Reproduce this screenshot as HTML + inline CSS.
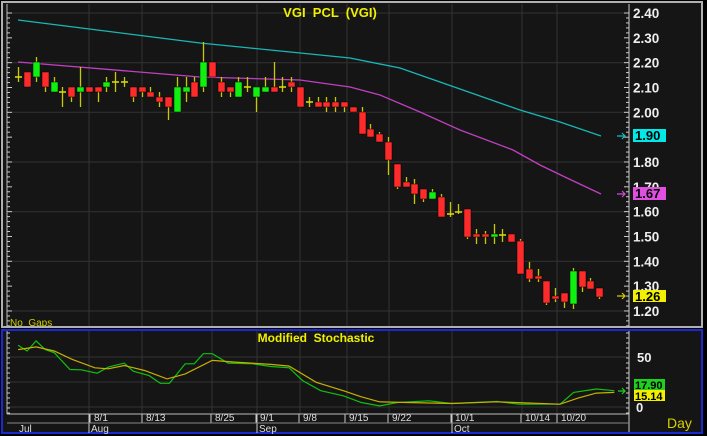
<!DOCTYPE html>
<html><head><meta charset="utf-8"><style>
html,body{margin:0;padding:0;background:#000;}
svg{display:block;font-family:"Liberation Sans",sans-serif;}
</style></head><body>
<svg id="s" width="707" height="436" viewBox="0 0 707 436" xmlns="http://www.w3.org/2000/svg">
<rect width="707" height="436" fill="#000"/>
<rect x="2" y="2" width="700" height="325" fill="#151515" stroke="#b0b0b0" stroke-width="2"/>
<rect x="2" y="330" width="700" height="103" fill="#151515" stroke="#1a2ad0" stroke-width="2"/>
<g id="grid" stroke="#333" stroke-width="1"></g>
<line x1="7" y1="4" x2="7" y2="326" stroke="#bbb"/>
<line x1="629" y1="4" x2="629" y2="326" stroke="#ccc"/>
<line x1="629" y1="331" x2="629" y2="432" stroke="#ccc"/>
<line x1="7" y1="331" x2="7" y2="414" stroke="#bbb"/>
<g id="ticks" stroke="#ccc" stroke-width="1"></g>
<g id="ma" fill="none" stroke-width="1.3">
<polyline stroke="#17b8b8" points="18,20 200,43 350,58 400,68 440,82 480,96 520,110 560,122 601,136"/>
<polyline stroke="#c040c0" points="18,62 200,77 300,80 350,87 380,95 420,112 460,130 513,150 540,165 567,178 601,194"/>
</g>
<g id="candles"></g>
<text x="330" y="17" fill="#f0f000" font-size="13" font-weight="bold" text-anchor="middle" xml:space="preserve">VGI  PCL  (VGI)</text>
<text x="10" y="326" fill="#d0d000" font-size="10" xml:space="preserve">No  Gaps</text>
<g id="labels" fill="#eee" font-size="13.5" font-weight="bold"></g>
<g stroke-width="1.2" fill="none">
<path d="M617 136h8M622 133l3 3-3 3" stroke="#17c0c0"/>
<path d="M617 194h8M622 191l3 3-3 3" stroke="#d050d0"/>
<path d="M617 296h8M622 293l3 3-3 3" stroke="#d0d000"/>
<path d="M618 391h7M622 388l3 3-3 3" stroke="#20d020"/>
</g>
<rect x="633" y="129" width="33" height="13" fill="#00e8e8"/><text x="635" y="140" font-size="13" font-weight="bold" fill="#000">1.90</text>
<rect x="633" y="187" width="33" height="13" fill="#e050e0"/><text x="635" y="198" font-size="13" font-weight="bold" fill="#000">1.67</text>
<rect x="633" y="290" width="33" height="12" fill="#f0f000"/><text x="635" y="301" font-size="13" font-weight="bold" fill="#000">1.26</text>
<text x="316" y="342" fill="#f0f000" font-size="12" font-weight="bold" text-anchor="middle" xml:space="preserve">Modified  Stochastic</text>
<g id="stoch" fill="none" stroke-width="1.2"></g>
<text x="637" y="362" fill="#eee" font-size="13" font-weight="bold">50</text>
<text x="636" y="412" fill="#eee" font-size="13" font-weight="bold">0</text>
<rect x="634" y="379" width="31" height="11" fill="#20d020"/><text x="635" y="389" font-size="11" font-weight="bold" fill="#000">17.90</text>
<rect x="634" y="390" width="31" height="11" fill="#f0f000"/><text x="635" y="400" font-size="11" font-weight="bold" fill="#000">15.14</text>
<line x1="7" y1="414" x2="629" y2="414" stroke="#bbb"/>
<line x1="7" y1="423" x2="629" y2="423" stroke="#888"/>
<g id="dates" fill="#ddd" font-size="10"></g>
<text x="667" y="428" fill="#d8d000" font-size="14">Day</text>
</svg>
<script>
const NS="http://www.w3.org/2000/svg";
function el(p,t,a,txt){const e=document.createElementNS(NS,t);for(const k in a)e.setAttribute(k,a[k]);if(txt!==undefined)e.textContent=txt;document.getElementById(p).appendChild(e);return e;}
const vx=[89,142,212,257,300,347,389,452,522,557];
vx.forEach(x=>{el("grid","line",{x1:x,y1:4,x2:x,y2:326});el("grid","line",{x1:x,y1:331,x2:x,y2:414});});
[13,62.7,112.3,162,211.7,261.3,311].forEach(y=>el("grid","line",{x1:8,y1:y,x2:628,y2:y}));
[357,382,407].forEach(y=>el("grid","line",{x1:8,y1:y,x2:628,y2:y}));
for(let i=0;i<=12;i++){const y=13+i*24.83;el("labels","text",{x:633,y:y+5},(2.4-i*0.1).toFixed(2));
 el("ticks","line",{x1:624,y1:y,x2:629,y2:y});el("ticks","line",{x1:7,y1:y,x2:12,y2:y});
 for(let j=1;j<5;j++){const yy=y+j*4.97;if(yy<326){el("ticks","line",{x1:626,y1:yy,x2:629,y2:yy});el("ticks","line",{x1:7,y1:yy,x2:10,y2:yy});}}}
for(let y=333;y<414;y+=5){el("ticks","line",{x1:626,y1:y,x2:629,y2:y});el("ticks","line",{x1:7,y1:y,x2:10,y2:y});}
const C=[["d",77,77,67,82],["r",72,87,72,87],["g",62,77,57,82],["r",72,87,72,92],["g",82,92,77,92],["d",92,92,87,107],["r",87,97,87,102],["g",87,92,67,107],["r",87,92,87,92],["r",87,92,87,102],["g",82,87,77,92],["d",82,82,72,92],["d",82,82,77,87],["r",87,97,87,102],["r",87,92,87,97],["r",92,97,87,97],["r",97,102,92,107],["r",97,107,97,120],["g",87,112,77,112],["g",87,92,77,102],["r",82,97,77,97],["g",62,87,42,92],["r",62,77,62,77],["r",82,92,77,97],["r",87,92,87,97],["g",82,97,77,97],["d",87,87,77,92],["g",87,97,87,112],["g",87,92,77,92],["r",87,92,62,92],["d",87,87,77,92],["r",82,87,77,92],["r",87,107,87,107],["d",102,102,97,107],["r",102,107,97,107],["r",102,107,97,112],["r",102,107,97,112],["r",102,107,102,112],["r",107,112,107,112],["r",112,134,107,134],["r",129,137,124,137],["r",134,142,132,142],["r",142,160,137,175],["r",164,187,164,189],["r",182,187,177,187],["r",184,194,179,204],["r",189,199,189,202],["g",192,199,189,199],["r",197,217,194,217],["d",214,214,202,217],["d",212,212,204,214],["r",209,237,209,239],["r",234,237,229,244],["r",234,237,231,244],["g",234,237,224,244],["d",235,235,229,242],["r",234,242,234,242],["r",241,274,239,274],["r",269,279,262,282],["r",276,279,269,282],["r",281,303,281,305],["r",296,299,288,302],["r",293,302,293,308],["g",271,304,268,309],["r",271,287,271,292],["r",281,289,278,289],["r",288,297,288,299]];
C.forEach((c,i)=>{const x=Math.round(18.3+i*8.8)+0.5;
 if(c[3]<c[1]||c[4]>c[2])el("candles","line",{x1:x,y1:c[3],x2:x,y2:c[4],stroke:"#c8c800","stroke-width":1.3});
 if(c[0]=="d")el("candles","line",{x1:x-3.5,y1:c[1],x2:x+3.5,y2:c[1],stroke:"#e0e000","stroke-width":1.5});
 else el("candles","rect",{x:x-3.5,y:c[1],width:7,height:Math.max(c[2]-c[1],3),fill:c[0]=="r"?"#ff2a2a":"#10f010",stroke:"#000","stroke-width":0.5});});
function pts(a){return a.map(p=>(p[0]/2.214).toFixed(1)+","+(320+p[1]/2.97).toFixed(1)).join(" ");}
const G=[[40,75],[60,92],[80,62],[100,88],[120,97],[155,147],[180,148],[215,158],[240,140],[275,128],[295,152],[330,165],[355,188],[375,188],[410,130],[430,130],[450,100],[470,100],[505,128],[560,130],[600,138],[640,142],[670,180],[710,210],[760,225],[800,245],[840,255],[880,245],[950,240],[1000,248],[1100,242],[1150,250],[1240,250],[1270,215],[1320,205],[1360,210]];
const Y=[[40,88],[80,80],[120,92],[160,117],[210,142],[240,145],[275,135],[320,150],[370,175],[410,160],[470,120],[520,125],[600,132],[640,137],[700,185],[760,210],[800,228],[840,243],[900,245],[1000,248],[1100,243],[1240,250],[1280,232],[1320,217],[1360,215]];
el("stoch","polyline",{points:pts(G),stroke:"#10c010"});
el("stoch","polyline",{points:pts(Y),stroke:"#c8b000"});
[["8/1",92],["8/13",144],["8/25",213],["9/1",258],["9/8",301],["9/15",347],["9/22",390],["10/1",453],["10/14",523],["10/20",559]].forEach(d=>{el("dates","text",{x:d[1]+2,y:421},d[0]);el("ticks","line",{x1:d[1]-2,y1:414,x2:d[1]-2,y2:423});});
[["Jul",19,0],["Aug",91,89],["Sep",259,257],["Oct",454,452]].forEach(d=>{el("dates","text",{x:d[1],y:432},d[0]);if(d[2])el("ticks","line",{x1:d[2],y1:414,x2:d[2],y2:433});});
</script>
</body></html>
